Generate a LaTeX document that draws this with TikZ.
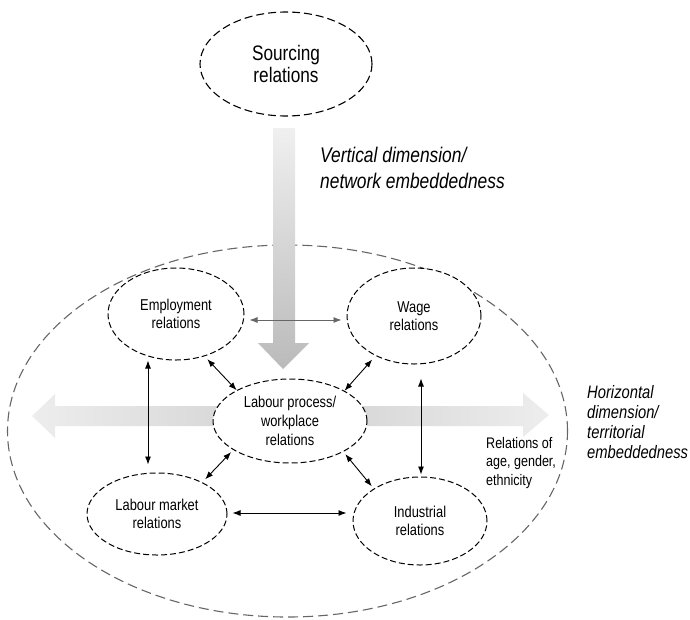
\documentclass[tikz,border=0pt]{standalone}
\usepackage{fontspec}
\setmainfont{Liberation Sans}[FakeStretch=0.82]
\usetikzlibrary{shapes.geometric,arrows.meta}
\begin{document}
\begin{tikzpicture}[x=1pt,y=-1pt,
  rel/.style={ellipse, draw=black, line width=1pt, dash pattern=on 6pt off 3pt,
    fill=white, inner sep=0pt, align=center, font=\fontsize{15.7}{18}\selectfont},
  bi/.style={{Latex[length=8pt,width=6pt]}-{Latex[length=8pt,width=6pt]}, line width=0.9pt},
  lbl/.style={anchor=north west, inner sep=0pt, align=left}
]
\useasboundingbox (0,0) rectangle (690,619);

% outer territorial ellipse
\node[ellipse, draw=black!60, line width=1.1pt, dash pattern=on 10pt off 5pt,
  minimum width=560pt, minimum height=372pt, inner sep=0pt] (outer) at (287.5,431) {};

% sourcing relations
\node[rel, line width=1.1pt, dash pattern=on 8pt off 4pt, minimum width=172pt, minimum height=104pt,
  font=\fontsize{21}{22}\selectfont] (src) at (286,64) {Sourcing\\relations};

% big shaded arrows
\shade[top color=black!6, bottom color=black!27]
  (273,128) -- (295,128) -- (295,343) -- (309,343) -- (283,369) -- (258,343) -- (273,343) -- cycle;
\shade[left color=black!7, right color=black!18]
  (32,416) -- (55,394) -- (55,406) -- (290,406) -- (290,426) -- (55,426) -- (55,438) -- cycle;
\shade[left color=black!18, right color=black!7]
  (290,406) -- (523,406) -- (523,393) -- (549,415) -- (523,437) -- (523,426) -- (290,426) -- cycle;

% relation ellipses
\node[rel, minimum width=136pt, minimum height=92pt] (emp) at (176,314) {Employment\\relations};
\node[rel, minimum width=134pt, minimum height=96pt] (wage) at (414,316) {Wage\\relations};
\node[rel, minimum width=154pt, minimum height=84pt, font=\fontsize{15.7}{19}\selectfont]
  (lp) at (290,421) {Labour process/\\workplace\\relations};
\node[rel, minimum width=140pt, minimum height=82pt] (lm) at (157,514) {Labour market\\relations};
\node[rel, minimum width=134pt, minimum height=88pt] (ind) at (420,521) {Industrial\\relations};

% labels
\node[lbl, font=\itshape\fontsize{21.2}{26}\selectfont] (vt) at (320,146.5)
  {Vertical dimension/\\network embeddedness};
\node[lbl, font=\itshape\fontsize{18}{20}\selectfont] (ht) at (587,385)
  {Horizontal\\dimension/\\territorial\\embeddedness};
\node[lbl, font=\fontsize{15.3}{18.5}\selectfont] (rt) at (486,437)
  {Relations of\\age, gender,\\ethnicity};

% connectors
\draw[bi, draw=black!60, line width=0.8pt, shorten <=5pt, shorten >=5pt]
  ([yshift=-6pt]emp.east) -- ([yshift=-4pt]wage.west);
\draw[bi] ([xshift=-28pt]emp.south) -- ([xshift=-9pt,yshift=8pt]lm.north);
\draw[bi] ([xshift=7pt,yshift=-14pt]wage.south) -- ([xshift=1pt,yshift=2pt]ind.north);
\draw[bi, shorten <=4pt] (emp.-56) -- (lp.150);
\draw[bi, shorten <=5pt] (wage.-134) -- (lp.29);
\draw[bi, shorten <=4pt, shorten >=3pt] (lm.35) -- (lp.207);
\draw[bi, shorten <=3pt, shorten >=3pt] (lp.-30) -- (ind.145);
\draw[bi, shorten <=5pt, shorten >=6pt] ([yshift=1pt]lm.east) -- ([yshift=8pt]ind.west);
\end{tikzpicture}
\end{document}
